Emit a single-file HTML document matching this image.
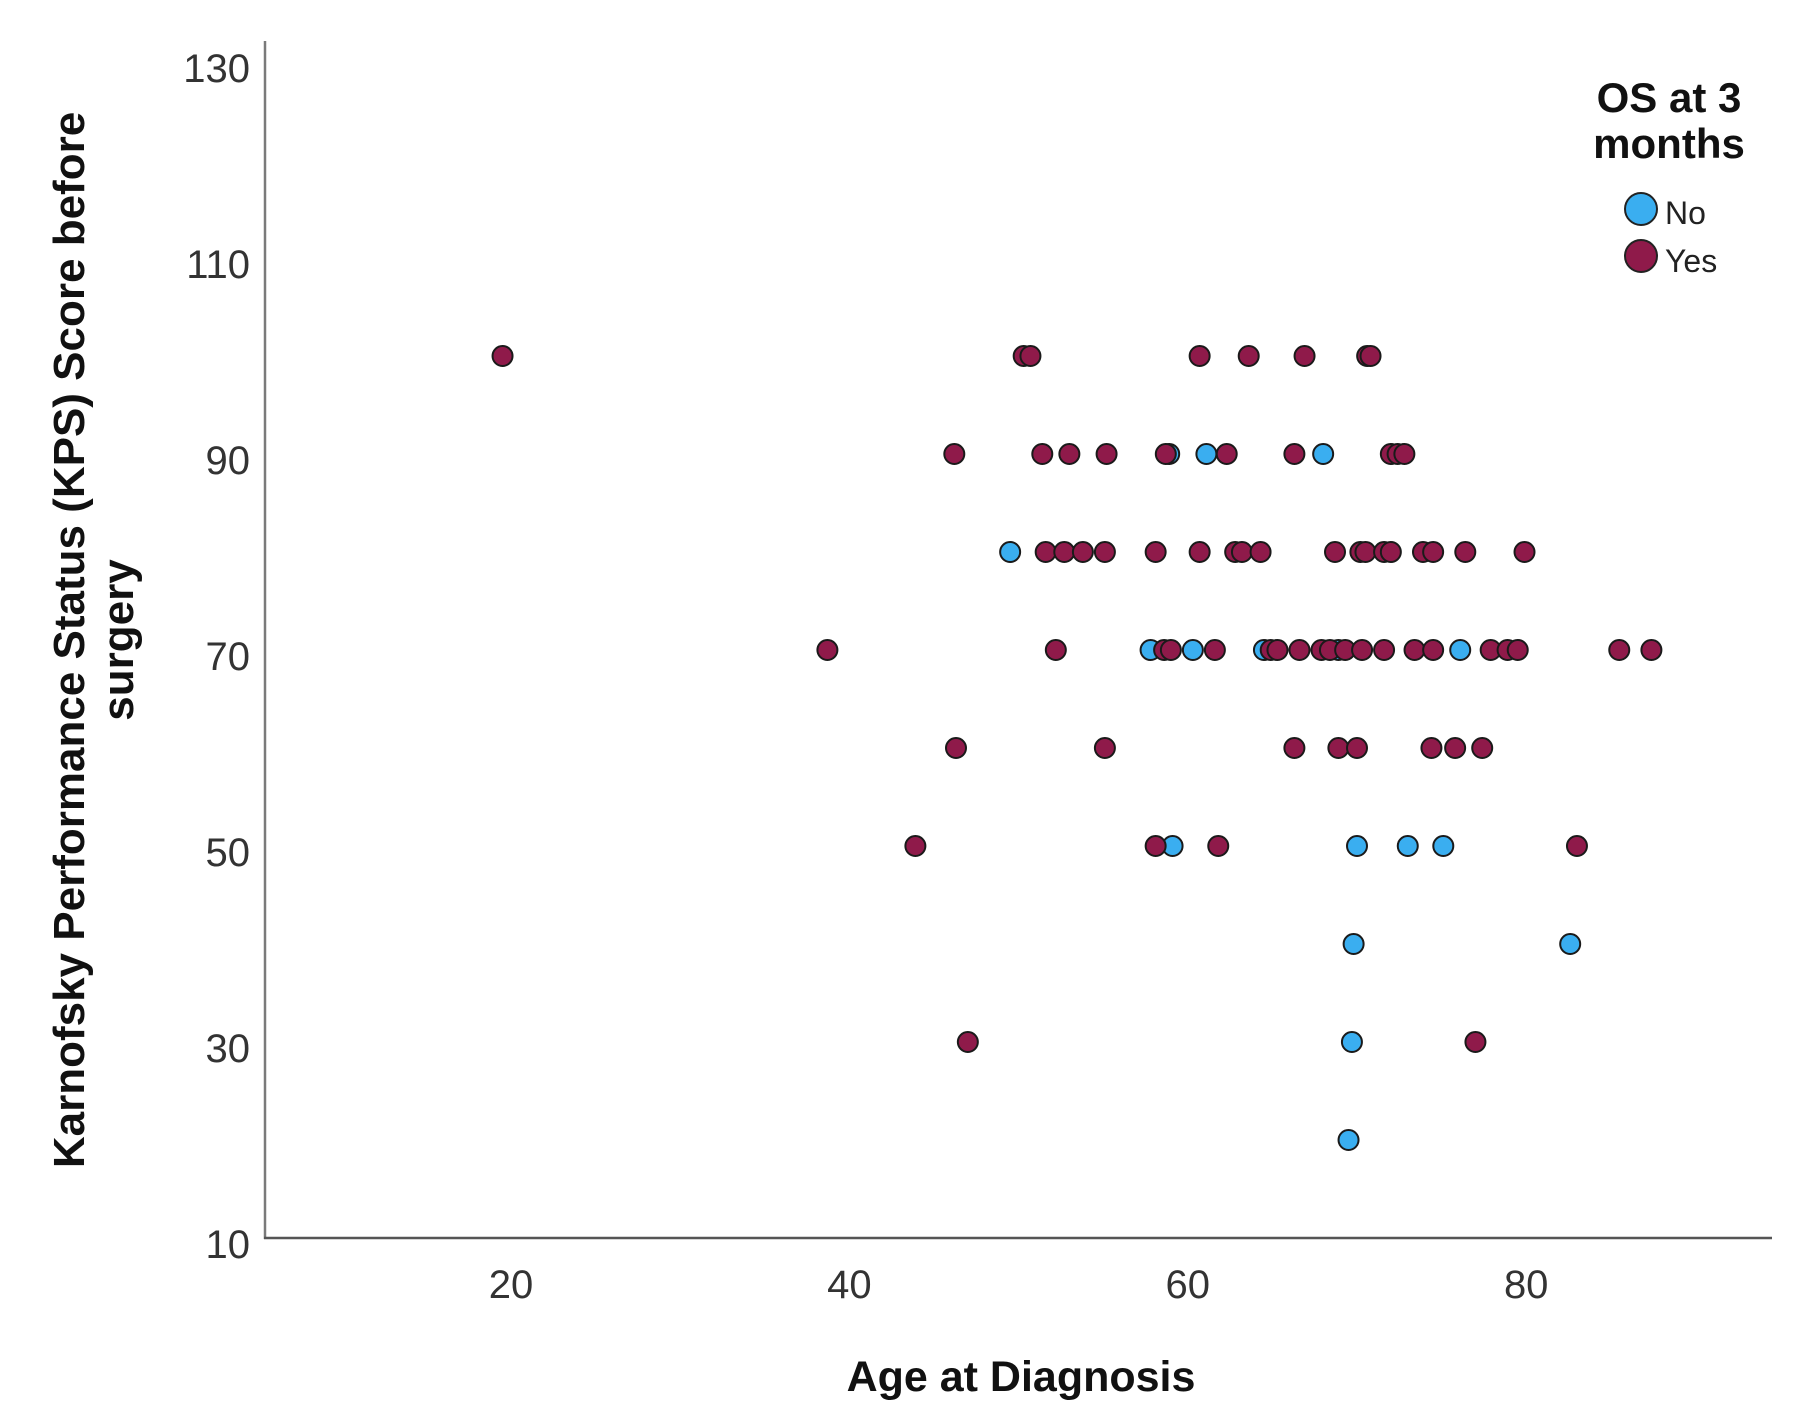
<!DOCTYPE html>
<html><head><meta charset="utf-8"><style>
html,body{margin:0;padding:0;background:#fff;}
svg{display:block;font-family:"Liberation Sans",sans-serif;}
</style></head><body>
<svg id="chart" width="1793" height="1419" viewBox="0 0 1793 1419">
<g id="axes">
<line x1="265" y1="41" x2="265" y2="1239" stroke="#7a7a7a" stroke-width="2.5"/>
<line x1="264" y1="1238" x2="1772" y2="1238" stroke="#555" stroke-width="2.5"/>
</g>
<g id="ticks"></g>
<g id="points"></g>
<text x="1021" y="1391" text-anchor="middle" font-size="43" font-weight="bold" fill="#111">Age at Diagnosis</text>
<text transform="translate(84,640) rotate(-90)" text-anchor="middle" font-size="44" font-weight="bold" fill="#111">Karnofsky Performance Status (KPS) Score before</text>
<text transform="translate(133,640) rotate(-90)" text-anchor="middle" font-size="44" font-weight="bold" fill="#111">surgery</text>
<g>
<text x="1669" y="112" text-anchor="middle" font-size="42" font-weight="bold" fill="#111">OS at 3</text>
<text x="1669" y="158" text-anchor="middle" font-size="42" font-weight="bold" fill="#111">months</text>
<circle cx="1641" cy="209" r="16" fill="#3aaef0" stroke="#222" stroke-width="2"/>
<text x="1665" y="224" font-size="32" fill="#222">No</text>
<circle cx="1641" cy="256" r="16" fill="#8f1a4a" stroke="#222" stroke-width="2"/>
<text x="1665" y="272" font-size="32" fill="#222">Yes</text>
</g>
</svg>
<script>
const yTicks = [10, 30, 50, 70, 90, 110, 130];
const xTicks = [20, 40, 60, 80];
const yesAge = [19.5,50.3,50.7,60.7,63.6,66.9,70.6,70.8,
 46.2,51.4,53.0,55.2,58.7,62.3,66.3,72.0,72.4,72.8,
 51.6,52.7,53.8,55.1,58.1,60.7,62.8,63.2,64.3,68.7,70.2,70.5,71.6,72.0,73.9,74.5,76.4,79.9,
 38.7,52.2,58.6,59.0,61.6,64.9,65.3,66.6,67.9,68.4,69.3,70.3,71.6,73.4,74.5,77.9,78.9,79.5,85.5,87.4,
 46.3,55.1,66.3,68.9,70.0,74.4,75.8,77.4,
 43.9,58.1,61.8,83.0,
 47.0,77.0];
const yesKps = [100,100,100,100,100,100,100,100,
 90,90,90,90,90,90,90,90,90,90,
 80,80,80,80,80,80,80,80,80,80,80,80,80,80,80,80,80,80,
 70,70,70,70,70,70,70,70,70,70,70,70,70,70,70,70,70,70,70,70,
 60,60,60,60,60,60,60,60,
 50,50,50,50,
 30,30];
const noAge = [58.9,61.1,68.0, 49.5, 57.8,60.3,64.5,68.9,76.1, 59.1,70.0,73.0,75.1, 69.8,82.6, 69.7, 69.5];
const noKps = [90,90,90, 80, 70,70,70,70,70, 50,50,50,50, 40,40, 30, 20];

const NS = "http://www.w3.org/2000/svg";
function xScale(a){ return 511 + (a - 20) * 16.92; }
function yScale(v){ return 1238 - (v - 10) * 9.8; }

const tg = document.getElementById('ticks');
yTicks.forEach(t => {
  const el = document.createElementNS(NS, 'text');
  el.setAttribute('x', 250);
  el.setAttribute('y', yScale(t) + 20);
  el.setAttribute('text-anchor', 'end');
  el.setAttribute('font-size', '40');
  el.setAttribute('fill', '#333');
  
  
  el.textContent = t;
  tg.appendChild(el);
});
xTicks.forEach(t => {
  const el = document.createElementNS(NS, 'text');
  el.setAttribute('x', xScale(t));
  el.setAttribute('y', 1298);
  el.setAttribute('text-anchor', 'middle');
  el.setAttribute('font-size', '40');
  el.setAttribute('fill', '#333');
  
  
  el.textContent = t;
  tg.appendChild(el);
});
const pg = document.getElementById('points');
function drawSeries(ages, kps, color, name){
  for (let i = 0; i < ages.length; i++){
    const c = document.createElementNS(NS, 'circle');
    c.setAttribute('cx', xScale(ages[i]));
    c.setAttribute('cy', yScale(kps[i]));
    c.setAttribute('r', 10);
    c.setAttribute('fill', color);
    c.setAttribute('stroke', '#1a1a1a');
    c.setAttribute('stroke-width', '2');
    
    
    pg.appendChild(c);
  }
}
drawSeries(noAge, noKps, '#3aaef0', 'point-no');
drawSeries(yesAge, yesKps, '#8f1a4a', 'point-yes');
</script>
</body></html>
